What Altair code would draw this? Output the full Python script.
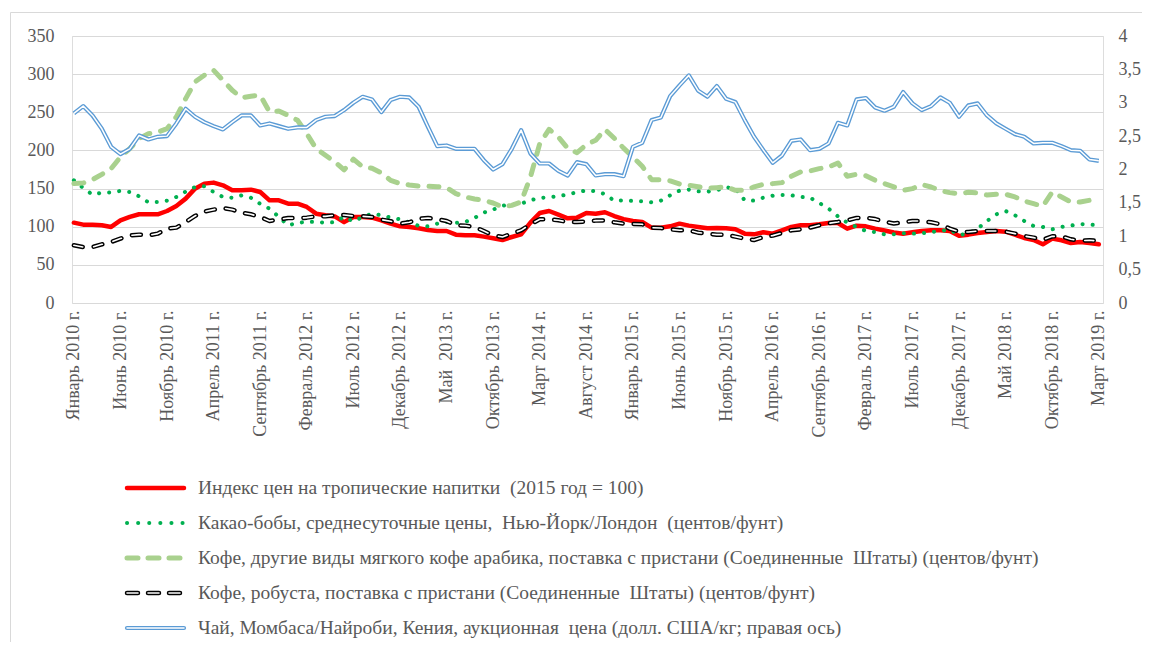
import altair as alt
import pandas as pd

# ---- data (monthly, Jan 2010 .. Mar 2019) ----
tick_labels = ["Январь 2010 г.", "Июнь 2010 г.", "Ноябрь 2010 г.", "Апрель 2011 г.",
               "Сентябрь 2011 г.", "Февраль 2012 г.", "Июль 2012 г.", "Декабрь 2012 г.",
               "Май\u00a0 2013 г.", "Октябрь 2013 г.", "Март 2014 г.", "Август 2014 г.",
               "Январь 2015 г.", "Июнь 2015 г.", "Ноябрь 2015 г.", "Апрель 2016 г.",
               "Сентябрь 2016 г.", "Февраль 2017 г.", "Июль 2017 г.", "Декабрь 2017 г.",
               "Май 2018 г.", "Октябрь 2018 г.", "Март 2019 г."]

series_names = [
    "Индекс цен на тропические напитки\u00a0 (2015 год = 100)",
    "Какао-бобы, среднесуточные цены,\u00a0 Нью-Йорк/Лондон\u00a0 (центов/фунт)",
    "Кофе, другие виды мягкого кофе арабика, поставка с пристани (Соединенные\u00a0 Штаты) (центов/фунт)",
    "Кофе, робуста, поставка с пристани (Соединенные\u00a0 Штаты) (центов/фунт)",
    "Чай, Момбаса/Найроби, Кения, аукционная\u00a0 цена (долл. США/кг; правая ось)",
]

index_vals = [105.3, 102.7, 102.7, 101.9, 99.7, 108.4, 112.8, 116.3, 116.3, 116.3,
              120.6, 127.2, 136.8, 149.9, 156.5, 157.8, 154.3, 147.7, 147.7, 148.6,
              145.5, 134.6, 134.6, 130.2, 130.2, 125.9, 117.1, 115.0, 113.5, 106.0,
              112.8, 112.8, 111.9, 108.4, 104.0, 100.5, 99.7, 97.9, 95.7, 94.4,
              94.4, 89.6, 88.7, 88.7, 87.0, 84.8, 82.6, 86.5, 90.0, 105.3,
              118.0, 120.6, 115.8, 111.0, 111.9, 118.0, 117.1, 119.0, 114.0, 110.0,
              107.5, 106.2, 98.8, 98.8, 100.5, 104.0, 101.4, 99.7, 97.9, 98.3,
              97.9, 96.6, 90.9, 90.0, 92.7, 90.9, 95.3, 99.7, 101.9, 101.9,
              103.2, 104.9, 104.9, 97.5, 101.4, 100.5, 97.5, 95.0, 92.5, 90.9,
              92.7, 94.4, 95.3, 95.3, 94.4, 88.0, 89.6, 91.8, 93.1, 94.4,
              93.5, 89.6, 85.2, 82.6, 76.9, 84.4, 82.2, 78.7, 80.0, 78.7,
              76.9]

cocoa_vals = [160.9, 150.8, 142.0, 144.7, 145.0, 146.9, 145.5, 139.9, 132.0, 132.4,
              134.2, 139.0, 146.0, 152.0, 153.0, 145.5, 139.0, 138.0, 141.0, 138.0,
              130.0, 123.7, 112.8, 101.8, 104.9, 106.6, 106.2, 105.3, 106.0, 113.0,
              107.0, 112.8, 117.0, 115.0, 111.9, 109.7, 105.8, 101.0, 100.5, 104.0,
              106.2, 104.9, 106.2, 111.5, 118.5, 122.4, 127.6, 129.0, 130.2, 134.6,
              137.7, 138.6, 139.9, 142.5, 145.1, 147.7, 146.4, 142.7, 134.0, 134.6,
              133.7, 133.3, 132.0, 134.2, 141.2, 147.3, 148.6, 146.4, 146.0, 147.7,
              151.7, 149.9, 134.6, 134.2, 138.1, 140.7, 141.6, 141.2, 139.0, 138.1,
              131.1, 123.7, 113.6, 105.3, 99.7, 94.4, 93.0, 90.0, 90.0, 91.4,
              90.9, 91.4, 93.1, 94.4, 96.2, 89.2, 90.9, 97.5, 107.5, 116.3,
              120.6, 115.0, 107.5, 101.0, 99.7, 96.6, 99.7, 101.4, 103.6, 102.7,
              101.9]

arabica_vals = [156.5, 157.3, 161.7, 168.7, 176.2, 191.4, 202.4, 215.5, 222.0, 224.0,
                228.6, 243.9, 267.9, 289.8, 298.5, 305.0, 292.0, 278.8, 269.2, 271.0,
                272.3, 250.4, 251.7, 246.0, 239.5, 222.0, 202.4, 193.6, 185.0, 174.5,
                188.5, 178.3, 176.6, 170.5, 160.8, 156.5, 154.7, 153.4, 153.0, 152.5,
                151.2, 143.4, 139.0, 136.4, 134.6, 131.1, 125.9, 128.0, 132.4, 165.2,
                208.9, 227.7, 217.6, 202.8, 197.1, 207.6, 213.3, 227.5, 216.0, 203.0,
                191.4, 179.2, 161.7, 161.7, 160.0, 156.0, 154.3, 152.5, 150.4, 151.2,
                152.1, 147.7, 147.7, 152.1, 155.6, 156.5, 157.8, 166.1, 171.8, 173.1,
                176.1, 178.3, 183.6, 166.1, 168.7, 166.8, 160.8, 156.5, 152.1, 147.7,
                149.9, 155.2, 152.1, 147.3, 144.7, 143.4, 145.1, 144.2, 141.6, 142.5,
                142.5, 139.0, 133.7, 130.2, 126.8, 145.5, 139.0, 132.4, 132.4, 134.6,
                132.4]

robusta_vals = [75.6, 73.4, 73.4, 76.9, 80.0, 84.4, 88.7, 89.6, 88.7, 90.9,
                97.5, 98.8, 106.2, 114.1, 119.8, 122.4, 124.6, 122.4, 118.4, 116.3,
                112.8, 107.5, 109.3, 111.5, 111.0, 111.9, 113.6, 113.6, 115.2, 115.4,
                114.0, 113.6, 112.8, 109.3, 107.1, 104.0, 105.8, 110.2, 111.5, 109.7,
                107.5, 101.9, 101.4, 99.7, 94.4, 88.7, 86.5, 90.9, 95.3, 103.2,
                109.7, 109.7, 108.4, 106.2, 106.2, 106.6, 108.0, 108.2, 105.8, 104.0,
                103.6, 103.2, 98.8, 98.3, 96.6, 95.3, 95.3, 92.2, 90.9, 89.6,
                89.6, 87.0, 84.4, 82.6, 86.5, 88.3, 91.8, 95.3, 96.6, 98.8,
                101.9, 104.5, 106.2, 108.4, 111.5, 111.9, 110.0, 106.6, 104.2, 105.8,
                107.5, 107.5, 105.8, 103.2, 97.5, 93.5, 93.1, 94.4, 94.4, 94.4,
                93.5, 90.9, 87.8, 85.7, 83.0, 87.4, 87.4, 83.5, 81.7, 82.2,
                81.3]

tea_vals = [2.84, 2.95, 2.81, 2.61, 2.34, 2.23, 2.31, 2.51, 2.45, 2.49,
            2.50, 2.69, 2.91, 2.79, 2.71, 2.65, 2.60, 2.71, 2.81, 2.81,
            2.66, 2.69, 2.65, 2.61, 2.63, 2.63, 2.74, 2.79, 2.80, 2.89,
            3.00, 3.09, 3.05, 2.86, 3.04, 3.09, 3.08, 2.94, 2.64, 2.35,
            2.36, 2.31, 2.31, 2.31, 2.14, 2.00, 2.08, 2.31, 2.59, 2.24,
            2.09, 2.09, 1.98, 1.91, 2.11, 2.08, 1.91, 1.93, 1.93, 1.90,
            2.34, 2.40, 2.74, 2.78, 3.10, 3.26, 3.41, 3.18, 3.09, 3.25,
            3.06, 3.01, 2.74, 2.49, 2.29, 2.10, 2.21, 2.43, 2.45, 2.29,
            2.31, 2.39, 2.70, 2.66, 3.05, 3.07, 2.93, 2.88, 2.94, 3.16,
            2.99, 2.89, 2.95, 3.08, 3.00, 2.79, 2.96, 2.99, 2.81, 2.69,
            2.61, 2.53, 2.49, 2.39, 2.40, 2.40, 2.35, 2.29, 2.28, 2.15,
            2.13]

# ---- styling ----
FONT = "Liberation Serif"
FS = 18
LFS = 19.5
TXT = "#595959"
GRID = "#d9d9d9"
RED = "#ff0000"
COCOA = "#00b050"
ARABICA = "#a9d18e"
TEA = "#5b9bd5"

W, H = 1031, 267

n = len(index_vals)
idx = list(range(n))

left_df = pd.concat([
    pd.DataFrame({"i": idx, "value": index_vals, "s": "index"}),
    pd.DataFrame({"i": idx, "value": cocoa_vals, "s": "cocoa"}),
    pd.DataFrame({"i": idx, "value": arabica_vals, "s": "arabica"}),
    pd.DataFrame({"i": idx, "value": robusta_vals, "s": "robusta"}),
])
tea_df = pd.DataFrame({"i": idx, "tea": tea_vals})

label_expr = "[" + ",".join("'" + s + "'" for s in tick_labels) + "][round(datum.value / 5)]"

x_enc = alt.X(
    "i:Q",
    scale=alt.Scale(domain=[-0.2, 110.45], nice=False, zero=False),
    axis=alt.Axis(values=list(range(0, n, 5)), labelExpr=label_expr, labelAngle=270,
                  labelAlign="right", labelBaseline="middle", grid=False, domain=False,
                  ticks=False, title=None, labelFont=FONT, labelFontSize=FS,
                  labelColor=TXT, labelPadding=7, labelOverlap=False, labelFlush=False,
                  labelBound=False),
)

y_left = alt.Y(
    "value:Q",
    scale=alt.Scale(domain=[0, 350], nice=False),
    axis=alt.Axis(values=list(range(0, 351, 50)), grid=True, gridColor=GRID, gridWidth=1,
                  domain=False, ticks=False, title=None, labelFont=FONT, labelFontSize=FS,
                  labelColor=TXT, labelPadding=18),
)

def left_line(series, **kw):
    return alt.Chart(left_df).transform_filter(alt.datum.s == series).mark_line(
        strokeCap="round", strokeJoin="round", **kw
    ).encode(x=x_enc, y=y_left)

red_l = left_line("index", color=RED, strokeWidth=4.5)
cocoa_l = left_line("cocoa", color=COCOA, strokeWidth=4, strokeDash=[0.1, 10])
arabica_l = left_line("arabica", color=ARABICA, strokeWidth=5, strokeDash=[10, 11])
rob_o = left_line("robusta", color="#000000", strokeWidth=4.5, strokeDash=[9, 11])
rob_i = left_line("robusta", color="#ffffff", strokeWidth=1.6, strokeDash=[9, 11])

left_group = alt.layer(red_l, cocoa_l, arabica_l, rob_o, rob_i)

y_right = alt.Y(
    "tea:Q",
    scale=alt.Scale(domain=[0, 4], nice=False),
    axis=alt.Axis(orient="right", values=[0, 0.5, 1, 1.5, 2, 2.5, 3, 3.5, 4], grid=False,
                  domain=False, ticks=False, title=None, labelFont=FONT, labelFontSize=FS,
                  labelColor=TXT, labelPadding=15,
                  labelExpr="replace(format(datum.value, '~g'), '.', ',')"),
)

tea_o = alt.Chart(tea_df).mark_line(color=TEA, strokeWidth=4.2, strokeJoin="round").encode(x=x_enc, y=y_right)
tea_i = alt.Chart(tea_df).mark_line(color="#ffffff", strokeWidth=1.5, strokeJoin="round").encode(x=x_enc, y=y_right)
tea_group = alt.layer(tea_o, tea_i)

# ---- legend (below the chart) ----
leg_df = pd.DataFrame({"name": series_names, "k": ["index", "cocoa", "arabica", "robusta", "tea"]})
y_leg = alt.Y("name:N", sort=series_names,
              scale=alt.Scale(type="point", domain=series_names, range=[452, 592], padding=0),
              axis=None)

def leg_rule(key, **kw):
    return alt.Chart(leg_df).transform_filter(alt.datum.k == key).mark_rule(**kw).encode(
        x=alt.value(55), x2=alt.value(112), y=y_leg)

leg_layers = [
    leg_rule("index", color=RED, strokeWidth=4.5, strokeCap="round"),
    leg_rule("cocoa", color=COCOA, strokeWidth=4, strokeDash=[0.1, 11], strokeCap="round"),
    leg_rule("arabica", color=ARABICA, strokeWidth=5, strokeDash=[11, 10], strokeCap="round"),
    leg_rule("robusta", color="#000000", strokeWidth=4.5, strokeDash=[11, 10], strokeCap="round"),
    leg_rule("robusta", color="#ffffff", strokeWidth=1.6, strokeDash=[11, 10], strokeCap="round"),
    leg_rule("tea", color=TEA, strokeWidth=4.2, strokeCap="round"),
    leg_rule("tea", color="#ffffff", strokeWidth=1.5, strokeCap="round"),
    alt.Chart(leg_df).mark_text(align="left", baseline="middle", font=FONT, fontSize=LFS,
                                color=TXT).encode(x=alt.value(126), y=y_leg, text="name:N"),
]

# chart-area border (top and left edges visible in the picture)
frame_df = pd.DataFrame({"a": [0]})
frame_top = alt.Chart(frame_df).mark_rule(color=GRID, strokeWidth=1).encode(
    x=alt.value(-61.5), x2=alt.value(1200), y=alt.value(-23.5))
frame_left = alt.Chart(frame_df).mark_rule(color=GRID, strokeWidth=1).encode(
    x=alt.value(-61.5), y=alt.value(-23.5), y2=alt.value(700))

legend_group = alt.layer(*leg_layers, frame_top, frame_left)

chart = alt.layer(left_group, tea_group, legend_group).resolve_scale(
    y="independent"
).properties(
    width=W, height=H,
    autosize=alt.AutoSizeParams(type="none"),
    padding={"left": 64, "top": 28, "right": 39, "bottom": 339},
).configure_view(strokeWidth=0).configure(background="#ffffff")

chart.save("out.html", embed_options={"renderer": "svg", "actions": False})
